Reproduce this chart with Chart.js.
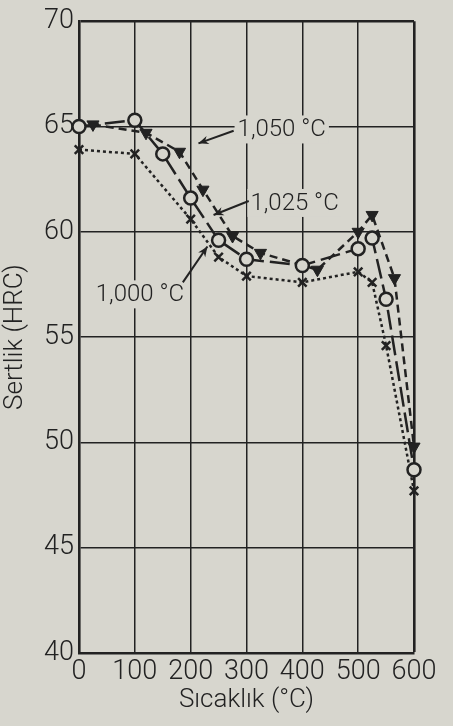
<!DOCTYPE html>
<html lang="tr">
<head>
<meta charset="utf-8">
<script src="https://cdn.jsdelivr.net/npm/chart.js@4.4.1/dist/chart.umd.min.js"></script>
<style>
    html, body { margin: 0; padding: 0; background: #d7d6ce; }
</style>
</head>
<body>
<canvas id="grafik" width="453" height="726"></canvas>
<script>
// Veriler
const sicaklik1000 = [0, 100, 200, 250, 300, 400, 500, 525, 550, 600];
const sertlik1000  = [63.9, 63.7, 60.6, 58.8, 57.9, 57.6, 58.1, 57.6, 54.6, 47.7];

const sicaklik1025 = [0, 100, 150, 200, 250, 300, 400, 500, 525, 550, 600];
const sertlik1025  = [65.0, 65.3, 63.7, 61.6, 59.6, 58.7, 58.4, 59.2, 59.7, 56.8, 48.7];

const sicaklik1050 = [25, 120, 180, 222, 275, 325, 427, 500, 525, 565, 600];
const sertlik1050  = [65.1, 64.7, 63.8, 62.0, 59.8, 59.0, 58.2, 60.0, 60.8, 57.8, 49.8];

const xTikler = [0, 100, 200, 300, 400, 500, 600];
const yTikler = [40, 45, 50, 55, 60, 65, 70];

// Eğri etiketleri: metin konumu ve ok (veri birimlerinde)
const etiketler = [
    { metin: '1,050 °C', x: 284, y: 64.86, kuyruk: [277, 64.8],  uc: [214, 64.2] },
    { metin: '1,025 °C', x: 307, y: 61.37, kuyruk: [304, 61.46], uc: [241, 60.8] },
    { metin: '1,000 °C', x: 30,  y: 57.03, kuyruk: [186, 57.6],  uc: [230, 59.3] }
];

const KAGIT = '#d7d6ce';
const MUREKKEP = '#222222';
const YAZI = "'Roboto', 'Open Sans', sans-serif";

const noktalar = (xs, ys) => xs.map((x, i) => ({ x, y: ys[i] }));

// Arka plan + etiketler
const kagitEklentisi = {
    id: 'kagit',
    beforeDraw(chart) {
        const { ctx, width, height } = chart;
        ctx.save();
        ctx.fillStyle = KAGIT;
        ctx.fillRect(0, 0, width, height);
        ctx.restore();
    },
    beforeDatasetsDraw(chart) {
        const { ctx, scales: { x, y } } = chart;
        ctx.save();
        ctx.font = `300 24px ${YAZI}`;
        ctx.textBaseline = 'middle';
        ctx.textAlign = 'left';
        etiketler.forEach(e => {
            const px = x.getPixelForValue(e.x);
            const py = y.getPixelForValue(e.y);
            const w = ctx.measureText(e.metin).width;
            ctx.fillStyle = KAGIT;
            ctx.fillRect(px - 3, py - 14, w + 6, 28);
            ctx.fillStyle = MUREKKEP;
            ctx.fillText(e.metin, px, py + 1);

            // ok
            const x1 = x.getPixelForValue(e.kuyruk[0]), y1 = y.getPixelForValue(e.kuyruk[1]);
            const x2 = x.getPixelForValue(e.uc[0]),     y2 = y.getPixelForValue(e.uc[1]);
            const aci = Math.atan2(y2 - y1, x2 - x1);
            ctx.strokeStyle = MUREKKEP;
            ctx.lineWidth = 2;
            ctx.beginPath();
            ctx.moveTo(x1, y1);
            ctx.lineTo(x2, y2);
            ctx.stroke();
            ctx.beginPath();
            ctx.moveTo(x2, y2);
            ctx.lineTo(x2 - 11 * Math.cos(aci - 0.4), y2 - 11 * Math.sin(aci - 0.4));
            ctx.lineTo(x2 - 7 * Math.cos(aci), y2 - 7 * Math.sin(aci));
            ctx.lineTo(x2 - 11 * Math.cos(aci + 0.4), y2 - 11 * Math.sin(aci + 0.4));
            ctx.closePath();
            ctx.fillStyle = MUREKKEP;
            ctx.fill();
        });
        ctx.restore();
    }
};

const cizgiKalinligi = (c, sinir) => (c.tick && sinir.includes(c.tick.value)) ? 2.6 : 1.5;

new Chart(document.getElementById('grafik'), {
    type: 'scatter',
    data: {
        datasets: [
            {
                label: '1,025 °C',
                data: noktalar(sicaklik1025, sertlik1025),
                showLine: true,
                borderColor: MUREKKEP,
                borderWidth: 2.5,
                borderDash: [20, 6],
                pointStyle: 'circle',
                pointRadius: 6.5,
                pointBorderWidth: 2.5,
                pointBackgroundColor: KAGIT,
                pointBorderColor: MUREKKEP,
                clip: false
            },
            {
                label: '1,050 °C',
                data: noktalar(sicaklik1050, sertlik1050),
                showLine: true,
                borderColor: MUREKKEP,
                borderWidth: 2.5,
                borderDash: [8, 5],
                pointStyle: 'triangle',
                rotation: 180,
                pointRadius: 7,
                pointBorderWidth: 1,
                pointBackgroundColor: MUREKKEP,
                pointBorderColor: MUREKKEP,
                clip: false
            },
            {
                label: '1,000 °C',
                data: noktalar(sicaklik1000, sertlik1000),
                showLine: true,
                borderColor: MUREKKEP,
                borderWidth: 2.5,
                borderDash: [3, 3],
                pointStyle: 'crossRot',
                pointRadius: 6,
                pointBorderWidth: 2.5,
                pointBorderColor: MUREKKEP,
                clip: false
            }
        ]
    },
    options: {
        responsive: false,
        animation: false,
        layout: { padding: { top: 17, right: 39, left: 0, bottom: 0 } },
        plugins: {
            legend: { display: false },
            tooltip: { enabled: false }
        },
        scales: {
            x: {
                type: 'linear',
                min: 0,
                max: 600,
                afterFit: s => { s.height = 73; },
                afterBuildTicks: s => { s.ticks = xTikler.map(v => ({ value: v })); },
                grid: {
                    color: MUREKKEP,
                    lineWidth: c => cizgiKalinligi(c, [600]),
                    drawTicks: false
                },
                border: { color: MUREKKEP, width: 2.6 },
                ticks: {
                    color: MUREKKEP,
                    padding: 3,
                    maxRotation: 0,
                    font: { family: YAZI, size: 27, weight: '300' }
                },
                title: {
                    display: true,
                    text: 'Sıcaklık (°C)',
                    color: MUREKKEP,
                    padding: { top: 0, bottom: 10 },
                    font: { family: YAZI, size: 26, weight: '300' }
                }
            },
            y: {
                min: 40,
                max: 70,
                afterFit: s => { s.width = 79; },
                afterBuildTicks: s => { s.ticks = yTikler.map(v => ({ value: v })); },
                grid: {
                    color: MUREKKEP,
                    lineWidth: c => cizgiKalinligi(c, [70]),
                    drawTicks: false
                },
                border: { color: MUREKKEP, width: 2.6 },
                ticks: {
                    color: MUREKKEP,
                    padding: 5,
                    font: { family: YAZI, size: 27, weight: '300' }
                },
                title: {
                    display: true,
                    text: 'Sertlik (HRC)',
                    color: MUREKKEP,
                    padding: { top: 0, bottom: 0 },
                    font: { family: YAZI, size: 26, weight: '300' }
                }
            }
        }
    },
    plugins: [kagitEklentisi]
});
</script>
</body>
</html>
